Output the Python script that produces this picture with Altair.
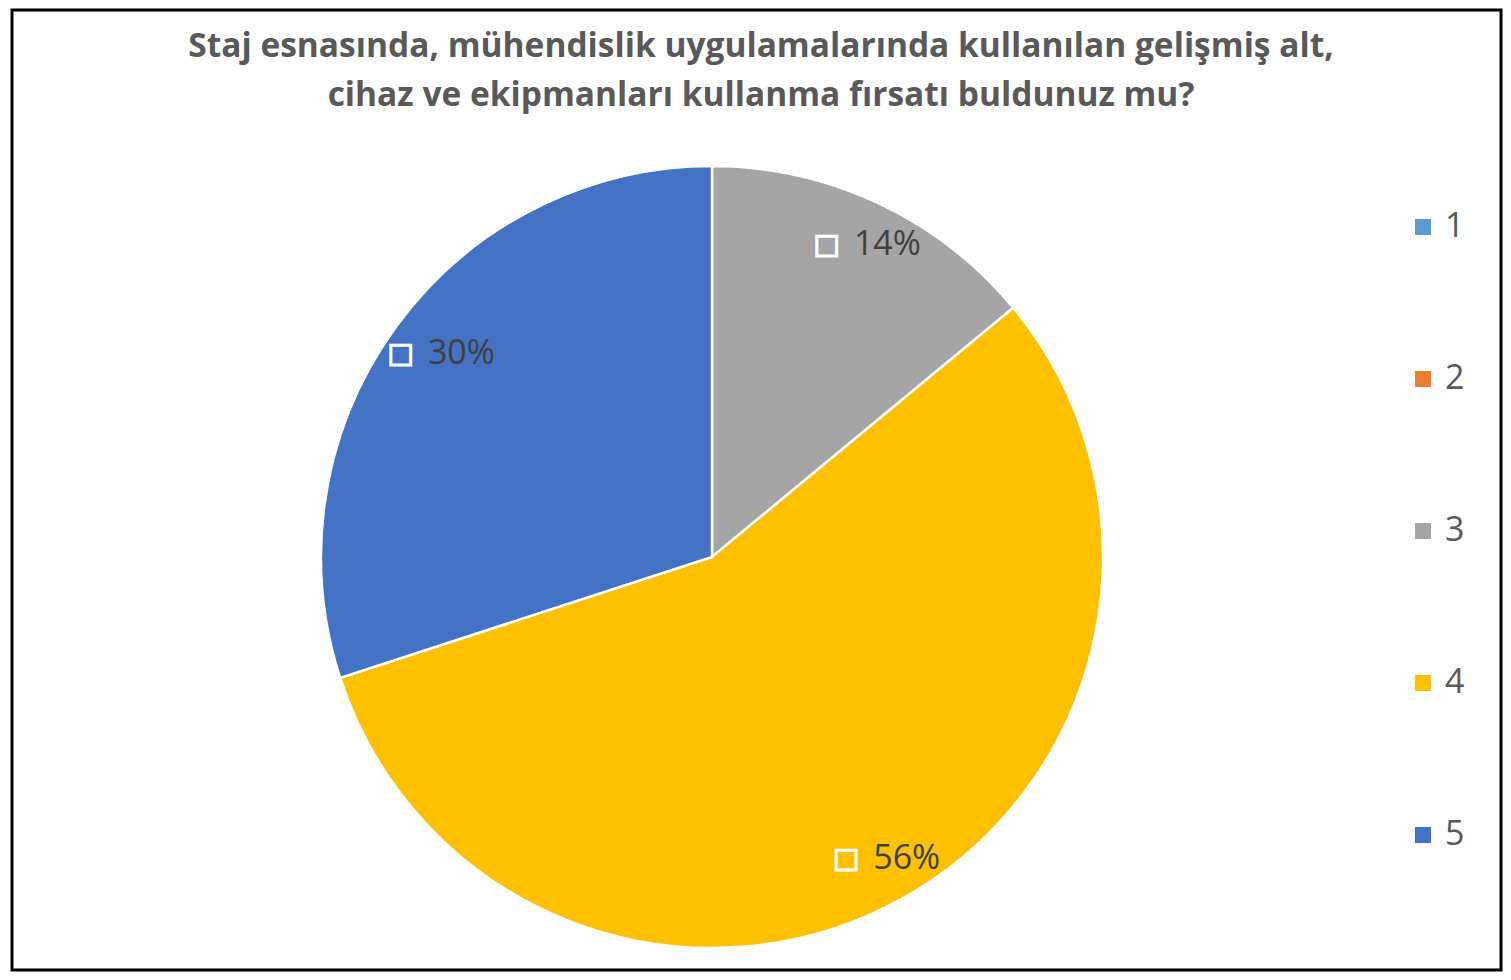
import altair as alt
import pandas as pd

categories = ["1", "2", "3", "4", "5"]
values = [0, 0, 7, 28, 15]
colors = ["#5B9BD5", "#ED7D31", "#A5A5A5", "#FFC000", "#4472C4"]
title_lines = [
    "Staj esnasında, mühendislik uygulamalarında kullanılan gelişmiş alt,",
    "cihaz ve ekipmanları kullanma fırsatı buldunuz mu?",
]

df = pd.DataFrame({"category": categories, "value": values})

CX, CY, R = 700, 547, 391

base = alt.Chart(df)

pie = base.mark_arc(outerRadius=R, stroke="white", strokeWidth=2.5).encode(
    theta=alt.Theta("value:Q", stack=True),
    order=alt.Order("category:N", sort="ascending"),
    color=alt.Color(
        "category:N",
        scale=alt.Scale(domain=categories, range=colors),
        legend=alt.Legend(
            orient="none", legendX=1394, legendY=200, title=None,
            symbolType="square", symbolSize=256, symbolStrokeWidth=0,
            labelFontSize=34, labelFont="Open Sans", labelColor="#595959",
            rowPadding=118, labelOffset=5, padding=0,
        ),
    ),
    x=alt.value(CX), y=alt.value(CY),
)

lab_base = base.transform_filter("datum.value > 0").transform_joinaggregate(
    total="sum(value)"
).transform_calculate(pct="format(datum.value/datum.total, '.0%')")

labels = lab_base.mark_text(
    radius=345, align="left", dx=-5, fontSize=34, font="Open Sans",
    color="#404040", baseline="middle",
).encode(
    theta=alt.Theta("value:Q", stack=True),
    order=alt.Order("category:N", sort="ascending"),
    text="pct:N",
    x=alt.value(CX), y=alt.value(CY),
)

squares = lab_base.mark_text(
    radius=345, align="center", dx=-32, fontSize=26, font="DejaVu Sans",
    fill="white", fillOpacity=0, stroke="white", strokeWidth=3, baseline="middle",
).encode(
    theta=alt.Theta("value:Q", stack=True),
    order=alt.Order("category:N", sort="ascending"),
    text=alt.value("■"),
    x=alt.value(CX), y=alt.value(CY),
)

title = alt.Chart(pd.DataFrame({"a": [0]})).mark_text(
    fontSize=33.5, font="Open Sans", fontWeight="bold", color="#595959",
    lineHeight=49, baseline="middle", align="center",
).encode(x=alt.value(749), y=alt.value(37), text=alt.value(title_lines))

chart = alt.layer(pie, labels, squares, title).properties(
    width=1489, height=960,
    autosize=alt.AutoSizeParams(type="none"),
    padding={"left": 4, "top": 2, "right": 2, "bottom": 2},
).configure_view(stroke="black", strokeWidth=3)

chart.save("out.html", embed_options={"renderer": "svg", "actions": False})
